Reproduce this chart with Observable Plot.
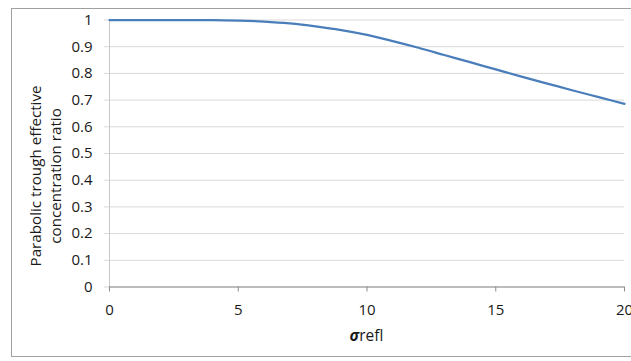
<!DOCTYPE html>
<html>
<head>
<meta charset="utf-8">
<script src="https://cdn.jsdelivr.net/npm/d3@7"></script>
<script src="https://cdn.jsdelivr.net/npm/@observablehq/plot@0.6"></script>
<style>
  html, body { margin: 0; padding: 0; background: #fff; overflow: hidden; }
  #wrap { position: relative; width: 631px; height: 361px; }
  #frame { position: absolute; left: 11px; top: 8px; width: 700px; height: 349px; border: 1px solid #a0a0a0; box-sizing: border-box; }
  #wrap svg { position: absolute; left: 0; top: 0; }
</style>
</head>
<body>
<div id="wrap"><div id="frame"></div></div>
<script>
// σrefl values (x) and effective concentration ratio (y)
const sigma = [0, 1, 2, 3, 4, 5, 6, 7, 8, 9, 10, 11, 12, 13, 14, 15, 16, 17, 18, 19, 20];
const ratio = [1, 1, 1, 1, 0.9998, 0.998, 0.994, 0.987, 0.976, 0.962, 0.944, 0.921, 0.896, 0.869, 0.842, 0.815, 0.788, 0.762, 0.736, 0.711, 0.686];

const xTicks = [0, 5, 10, 15, 20];
const xTickLabels = ["0", "5", "10", "15", "20"];
const yTicks = [0, 0.1, 0.2, 0.3, 0.4, 0.5, 0.6, 0.7, 0.8, 0.9, 1];
const yTickLabels = ["0", "0.1", "0.2", "0.3", "0.4", "0.5", "0.6", "0.7", "0.8", "0.9", "1"];

const yTitle = ["Parabolic trough effective", "concentration ratio"];
const xTitleSymbol = "σ";
const xTitleRest = "refl";

const data = sigma.map((s, i) => ({sigma: s, ratio: ratio[i]}));

const font = "'Open Sans', sans-serif";

const chart = Plot.plot({
  width: 631,
  height: 361,
  marginLeft: 109,
  marginRight: 7,
  marginTop: 19.5,
  marginBottom: 74.5,
  style: {fontFamily: font, fontSize: "15px", background: "transparent", overflow: "visible"},
  x: {domain: [0, 20]},
  y: {domain: [0, 1]},
  marks: [
    Plot.gridY(yTicks, {stroke: "#d9d9d9", strokeOpacity: 1, strokeWidth: 1}),
    Plot.ruleX([0], {stroke: "#c8c8c8", strokeWidth: 1}),
    Plot.axisY(yTicks, {
      tickSize: 5, tickPadding: 12, stroke: "#d9d9d9", strokeOpacity: 1, fill: "#1a1a1a",
      tickFormat: d => yTickLabels[yTicks.indexOf(d)], label: null
    }),
    Plot.ruleY([0], {stroke: "#8c8c8c", strokeWidth: 1}),
    Plot.axisX(xTicks, {
      tickSize: 5, tickPadding: 12, stroke: "#8c8c8c", strokeOpacity: 1, fill: "#1a1a1a",
      tickFormat: d => xTickLabels[xTicks.indexOf(d)], label: null
    }),
    Plot.line(data, {x: "sigma", y: "ratio", stroke: "#4a7ebb", strokeWidth: 2.25, curve: "monotone-x"})
  ]
});

document.getElementById("wrap").appendChild(chart);

const svg = d3.select(chart);
const xs = chart.scale("x");
const ys = chart.scale("y");

// x-axis title with bold italic sigma
const xt = svg.append("text")
  .attr("x", xs.apply(10))
  .attr("y", ys.apply(0) + 54)
  .attr("text-anchor", "middle")
  .attr("font-family", font)
  .attr("font-size", 15.5)
  .attr("fill", "#1a1a1a");
xt.append("tspan").attr("font-weight", "bold").attr("font-style", "italic").text(xTitleSymbol);
xt.append("tspan").text(xTitleRest);

// y-axis title, two lines rotated
const yMid = ys.apply(0.414);
const yt = svg.append("text")
  .attr("transform", `translate(41,${yMid}) rotate(-90)`)
  .attr("text-anchor", "middle")
  .attr("font-family", font)
  .attr("font-size", 15.2)
  .attr("fill", "#1a1a1a");
yt.append("tspan").attr("x", 0).attr("dy", 0).text(yTitle[0]);
yt.append("tspan").attr("x", 0).attr("dy", 20).text(yTitle[1]);
</script>
</body>
</html>
